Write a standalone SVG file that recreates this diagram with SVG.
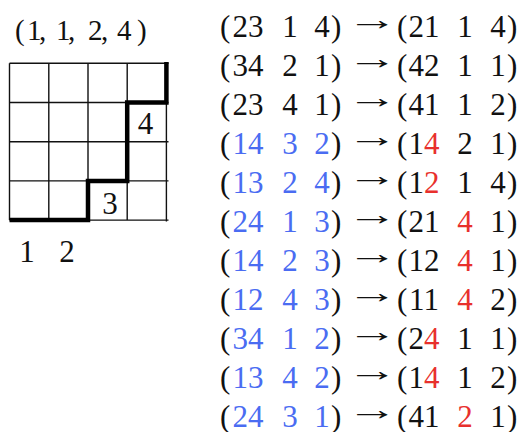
<svg xmlns="http://www.w3.org/2000/svg" width="520" height="432" viewBox="0 0 520 432">
<style>
text{font-family:"Liberation Serif","Times New Roman",serif;font-size:31px;fill:#111}
.m{text-anchor:middle}
.b{fill:#4a6cf2}
.r{fill:#e8302c}
.g{stroke:#111;stroke-width:1.4;fill:none}
.t{stroke:#000;stroke-width:4.5;fill:none;stroke-linejoin:miter}
.tp{font-size:29px}
</style>
<defs>
<text id="arr" x="0" y="0" transform="scale(1.65,1)">→</text>
</defs>
<g id="tuple">
<text class="tp" x="15 27 39 45 56 68 74 88 101 107 117 137" y="40">(1, 1, 2, 4)</text>
</g>
<g id="grid">
<path class="g" d="M9.5,63.3H168.5M9.5,102.5H168.5M9.5,141.7H168.5M9.5,180.9H168.5M9.5,220.1H168.5M9.5,63.3V220.1M48.8,63.3V220.1M88,63.3V220.1M127.2,63.3V220.1M166.4,63.3V221.5"/>
<path class="t" d="M9.5,220.1H88V180.9H127.2V102.5H166.4V62"/>
<text class="m" x="145.5" y="133.5">4</text>
<text class="m" x="110" y="213.5">3</text>
<text class="m" x="27" y="262">1</text>
<text class="m" x="67" y="262">2</text>
</g>
<g id="rows">
<g id="row1" transform="translate(0,36.5)">
<text x="220" y="0">(</text><text class="m" x="248" y="0">23</text><text class="m" x="290" y="0">1</text><text class="m" x="322" y="0">4</text><text x="331" y="0">)</text>
<use href="#arr" transform="translate(347,-7)"/>
<text x="397" y="0">(</text><text class="m" x="424" y="0">21</text><text class="m" x="465" y="0">1</text><text class="m" x="498" y="0">4</text><text x="507" y="0">)</text>
</g>
<g id="row2" transform="translate(0,75.5)">
<text x="220" y="0">(</text><text class="m" x="248" y="0">34</text><text class="m" x="290" y="0">2</text><text class="m" x="322" y="0">1</text><text x="331" y="0">)</text>
<use href="#arr" transform="translate(347,-7)"/>
<text x="397" y="0">(</text><text class="m" x="424" y="0">42</text><text class="m" x="465" y="0">1</text><text class="m" x="498" y="0">1</text><text x="507" y="0">)</text>
</g>
<g id="row3" transform="translate(0,114.5)">
<text x="220" y="0">(</text><text class="m" x="248" y="0">23</text><text class="m" x="290" y="0">4</text><text class="m" x="322" y="0">1</text><text x="331" y="0">)</text>
<use href="#arr" transform="translate(347,-7)"/>
<text x="397" y="0">(</text><text class="m" x="424" y="0">41</text><text class="m" x="465" y="0">1</text><text class="m" x="498" y="0">2</text><text x="507" y="0">)</text>
</g>
<g id="row4" transform="translate(0,153.5)">
<text x="220" y="0">(</text><text class="m b" x="248" y="0">14</text><text class="m b" x="290" y="0">3</text><text class="m b" x="322" y="0">2</text><text x="331" y="0">)</text>
<use href="#arr" transform="translate(347,-7)"/>
<text x="397" y="0">(</text><text class="m" x="424" y="0">1<tspan class="r">4</tspan></text><text class="m" x="465" y="0">2</text><text class="m" x="498" y="0">1</text><text x="507" y="0">)</text>
</g>
<g id="row5" transform="translate(0,192.5)">
<text x="220" y="0">(</text><text class="m b" x="248" y="0">13</text><text class="m b" x="290" y="0">2</text><text class="m b" x="322" y="0">4</text><text x="331" y="0">)</text>
<use href="#arr" transform="translate(347,-7)"/>
<text x="397" y="0">(</text><text class="m" x="424" y="0">1<tspan class="r">2</tspan></text><text class="m" x="465" y="0">1</text><text class="m" x="498" y="0">4</text><text x="507" y="0">)</text>
</g>
<g id="row6" transform="translate(0,231.5)">
<text x="220" y="0">(</text><text class="m b" x="248" y="0">24</text><text class="m b" x="290" y="0">1</text><text class="m b" x="322" y="0">3</text><text x="331" y="0">)</text>
<use href="#arr" transform="translate(347,-7)"/>
<text x="397" y="0">(</text><text class="m" x="424" y="0">21</text><text class="m r" x="465" y="0">4</text><text class="m" x="498" y="0">1</text><text x="507" y="0">)</text>
</g>
<g id="row7" transform="translate(0,270.5)">
<text x="220" y="0">(</text><text class="m b" x="248" y="0">14</text><text class="m b" x="290" y="0">2</text><text class="m b" x="322" y="0">3</text><text x="331" y="0">)</text>
<use href="#arr" transform="translate(347,-7)"/>
<text x="397" y="0">(</text><text class="m" x="424" y="0">12</text><text class="m r" x="465" y="0">4</text><text class="m" x="498" y="0">1</text><text x="507" y="0">)</text>
</g>
<g id="row8" transform="translate(0,309.5)">
<text x="220" y="0">(</text><text class="m b" x="248" y="0">12</text><text class="m b" x="290" y="0">4</text><text class="m b" x="322" y="0">3</text><text x="331" y="0">)</text>
<use href="#arr" transform="translate(347,-7)"/>
<text x="397" y="0">(</text><text class="m" x="424" y="0">11</text><text class="m r" x="465" y="0">4</text><text class="m" x="498" y="0">2</text><text x="507" y="0">)</text>
</g>
<g id="row9" transform="translate(0,348.5)">
<text x="220" y="0">(</text><text class="m b" x="248" y="0">34</text><text class="m b" x="290" y="0">1</text><text class="m b" x="322" y="0">2</text><text x="331" y="0">)</text>
<use href="#arr" transform="translate(347,-7)"/>
<text x="397" y="0">(</text><text class="m" x="424" y="0">2<tspan class="r">4</tspan></text><text class="m" x="465" y="0">1</text><text class="m" x="498" y="0">1</text><text x="507" y="0">)</text>
</g>
<g id="row10" transform="translate(0,387.5)">
<text x="220" y="0">(</text><text class="m b" x="248" y="0">13</text><text class="m b" x="290" y="0">4</text><text class="m b" x="322" y="0">2</text><text x="331" y="0">)</text>
<use href="#arr" transform="translate(347,-7)"/>
<text x="397" y="0">(</text><text class="m" x="424" y="0">1<tspan class="r">4</tspan></text><text class="m" x="465" y="0">1</text><text class="m" x="498" y="0">2</text><text x="507" y="0">)</text>
</g>
<g id="row11" transform="translate(0,426.5)">
<text x="220" y="0">(</text><text class="m b" x="248" y="0">24</text><text class="m b" x="290" y="0">3</text><text class="m b" x="322" y="0">1</text><text x="331" y="0">)</text>
<use href="#arr" transform="translate(347,-7)"/>
<text x="397" y="0">(</text><text class="m" x="424" y="0">41</text><text class="m r" x="465" y="0">2</text><text class="m" x="498" y="0">1</text><text x="507" y="0">)</text>
</g>
</g>
</svg>
